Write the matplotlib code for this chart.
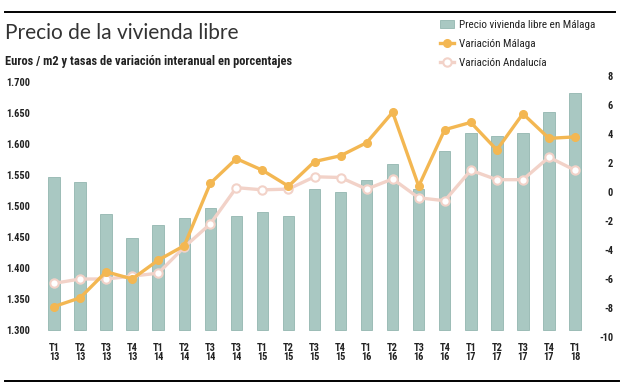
import matplotlib
matplotlib.use("Agg")
import matplotlib.pyplot as plt
from matplotlib.lines import Line2D
from matplotlib import font_manager

names = {f.name for f in font_manager.fontManager.ttflist}
cond_candidates = ['Liberation Sans Narrow', 'DejaVu Sans Condensed', 'Roboto Condensed',
                   'Open Sans Condensed', 'Noto Sans Condensed']
COND = next((n for n in cond_candidates if n in names), 'DejaVu Sans')
plt.rcParams['font.family'] = [COND, 'DejaVu Sans']

# ---- data ----
quarters = ["T1\n13", "T2\n13", "T3\n13", "T4\n13", "T1\n14", "T2\n14", "T3\n14", "T3\n14",
            "T1\n15", "T2\n15", "T3\n15", "T4\n15", "T1\n16", "T2\n16", "T3\n16", "T4\n16",
            "T1\n17", "T2\n17", "T3\n17", "T4\n17", "T1\n18"]
precio_malaga = [1547, 1538, 1487, 1449, 1469, 1480, 1496, 1484, 1491, 1484, 1527,
                 1523, 1542, 1567, 1527, 1589, 1617, 1613, 1617, 1651, 1683]
var_malaga = [-7.9, -7.3, -5.5, -6.0, -4.7, -3.7, 0.6, 2.3, 1.5, 0.4, 2.1,
              2.5, 3.4, 5.5, 0.4, 4.3, 4.8, 2.9, 5.4, 3.7, 3.8]
var_andalucia = [-6.3, -6.0, -6.0, -5.8, -5.6, -3.8, -2.2, 0.3, 0.15, 0.2, 1.05,
                 1.0, 0.2, 0.9, -0.4, -0.6, 1.5, 0.85, 0.85, 2.4, 1.5]
left_ticks = [1300, 1350, 1400, 1450, 1500, 1550, 1600, 1650, 1700]
left_labels = ["1.300", "1.350", "1.400", "1.450", "1.500", "1.550", "1.600", "1.650", "1.700"]
right_ticks = [-10, -8, -6, -4, -2, 0, 2, 4, 6, 8]
right_labels = ["-10", "-8", "-6", "-4", "-2", "0", "2", "4", "6", "8"]
base = 1300

BAR = '#a9c8c2'
BAR_EDGE = '#93b6b0'
ORANGE = '#f3b752'
PINK = '#f2d2c8'
TXT = '#222222'
TICKFS = 6.5 if COND == 'DejaVu Sans' else 7.5

fig = plt.figure(figsize=(6.24, 3.84), dpi=100)
fig.patch.set_facecolor('white')

ax = fig.add_axes([41/624, 47/384, 547/624, 261/384])
x = list(range(len(quarters)))
bars = ax.bar(x, [v - base for v in precio_malaga], bottom=base, width=0.44,
              color=BAR, edgecolor=BAR_EDGE, linewidth=0.6, zorder=1,
              label="Precio vivienda libre en Málaga")
ax.set_xlim(-0.5, len(quarters) - 0.5)
ax.set_ylim(1288.7, 1709.7)
ax.set_yticks(left_ticks)
ax.set_yticklabels(left_labels, fontsize=TICKFS, fontweight='bold', color=TXT)
ax.set_xticks(x)
ax.set_xticklabels(quarters, fontsize=TICKFS, fontweight='bold', color=TXT, linespacing=0.95)
ax.tick_params(axis='y', length=0, pad=8)
ax.tick_params(axis='x', length=0, pad=4)
for s in ax.spines.values():
    s.set_visible(False)

ax2 = ax.twinx()
ax2.set_ylim(-10.0, 8.0)
la, = ax2.plot(x, var_andalucia, color=PINK, lw=2.4, marker='o', ms=6,
               mfc='white', mec=PINK, mew=1.5, zorder=2, label="Variación Andalucía")
lm, = ax2.plot(x, var_malaga, color=ORANGE, lw=2.4, marker='o', ms=5.5,
               mfc=ORANGE, mec=ORANGE, zorder=3, label="Variación Málaga")
ax2.set_yticks(right_ticks)
ax2.set_yticklabels(right_labels, fontsize=TICKFS, fontweight='bold', color=TXT)
ax2.tick_params(axis='y', length=0, pad=18)
for lbl in ax2.get_yticklabels():
    lbl.set_horizontalalignment('right')
for s in ax2.spines.values():
    s.set_visible(False)

# legend
leg = fig.legend(handles=[bars, lm, la], loc='upper left',
                 bbox_to_anchor=(440/624, 1 - 20/384), frameon=False,
                 fontsize=8, handlelength=1.3, handletextpad=0.4,
                 labelspacing=0.8, borderaxespad=0, borderpad=0)
for t in leg.get_texts():
    t.set_color(TXT)

# title, subtitle and rules
fig.add_artist(Line2D([5/624, 615/624], [1 - 12/384, 1 - 12/384], color='black', lw=1.4))
fig.add_artist(Line2D([5/624, 619/624], [1 - 381/384, 1 - 381/384], color='black', lw=1.4))
fig.text(5/624, 1 - 33/384, "Precio de la vivienda libre", fontsize=15,
         family=['Lato', 'DejaVu Sans'], fontweight='normal', color='#333333',
         va='center', ha='left')
fig.text(5/624, 1 - 61/384, "Euros / m2 y tasas de variación interanual en porcentajes",
         fontsize=9, fontweight='bold', color=TXT, va='center', ha='left')

fig.savefig("out.png", dpi=100, facecolor='white')
